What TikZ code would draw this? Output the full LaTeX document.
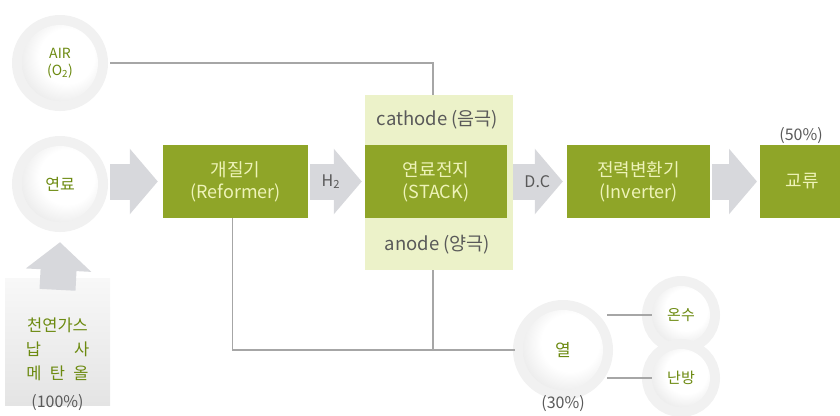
\documentclass[tikz,border=0pt]{standalone}
\usepackage{fontspec}
\setmainfont{Noto Sans CJK KR}
\usetikzlibrary{arrows.meta,calc}

\definecolor{boxgreen}   {HTML}{8FA528}
\definecolor{panelgreen} {HTML}{ECF2C9}
\definecolor{boxtext}    {HTML}{EEF3B8}
\definecolor{balltext}   {HTML}{6C8A10}
\definecolor{arrowgray}  {HTML}{D7D8DC}
\definecolor{pipegray}   {HTML}{A6A6A6}
\definecolor{labelgray}  {HTML}{595959}
\definecolor{halogray}   {HTML}{F1F1F1}
\definecolor{bubbleedge} {HTML}{C6C6C6}
\definecolor{feedtop}    {HTML}{F8F8F8}
\definecolor{feedbottom} {HTML}{E4E4E4}

\pgfdeclareradialshading{bubbleshade}{\pgfpoint{6bp}{6bp}}{%
  color(0bp)=(white); color(18bp)=(white);
  color(56bp)=(bubbleedge); color(72bp)=(bubbleedge)}

\tikzset{
  stagebox/.style={rectangle, fill=boxgreen, text=boxtext,
    minimum height=73pt, align=center,
    font=\fontsize{18}{22}\selectfont},
  bubble/.style={circle, minimum size=#1, inner sep=0pt,
    shading=bubbleshade, preaction={draw=halogray, line width=20pt},
    text=balltext, align=center,
    font=\fontsize{16}{18}\selectfont},
  bigarrow/.style={draw=arrowgray, line width=36pt,
    -{Triangle[width=64pt, length=28pt]}},
  arrowlabel/.style={text=labelgray, font=\fontsize{16}{18}\selectfont},
  pipe/.style={draw=pipegray, line width=1.1pt},
  pct/.style={text=labelgray, font=\fontsize{16}{18}\selectfont},
  elect/.style={text=labelgray, font=\fontsize{18.5}{20}\selectfont}
}

\begin{document}
\begin{tikzpicture}[x=1pt, y=-1pt]
\useasboundingbox (0,0) rectangle (840,415);

%% ── inputs ─────────────────────────────────────────────
\node[bubble=76pt, font=\fontsize{14}{17}\selectfont] (air) at (60,63) {AIR\\(O\textsubscript{2})};
\node[bubble=76pt] (fuel) at (60,184) {연료};
\node[rectangle, minimum width=105pt, minimum height=127pt,
  top color=feedtop, bottom color=feedbottom] (feed) at (57.5,341.5) {};
\node[text=balltext, align=center, font=\fontsize{16.5}{24}\selectfont]
  (feedtext) at (57.5,349) {천연가스\\납\hspace{2em}사\\메\hspace{.5em}탄\hspace{.5em}올};
\node[pct] (feedpct) at (57.5,403) {(100\%)};

%% ── main chain ─────────────────────────────────────────
\node[stagebox, minimum width=145pt] (reformer) at (235.5,181.5) {개질기\\(Reformer)};
\node[rectangle, fill=panelgreen, minimum width=148pt, minimum height=175pt]
  (stackbg) at (439,182.5) {};
\node[stagebox, minimum width=142pt, anchor=west] (stack) at (stackbg.west |- reformer) {연료전지\\(STACK)};
\node[elect] (cathode) at ($(stackbg.north)!0.5!(stack.north)$) {cathode (음극)};
\node[elect] (anode) at ($(stack.south)!0.5!(stackbg.south)$) {anode (양극)};
\node[stagebox, minimum width=143pt] (inverter) at (638.5,181.5) {전력변환기\\(Inverter)};
\node[stagebox, minimum width=84pt, anchor=west] (ac) at (760,181.5) {교류};
\node[pct] (acpct) at (801,136) {(50\%)};

%% ── heat ───────────────────────────────────────────────
\node[bubble=80pt, font=\fontsize{17}{19}\selectfont] (heat) at (563,350) {열};
\node[pct] (heatpct) at (563,404) {(30\%)};
\node[bubble=58pt, font=\fontsize{15}{17}\selectfont] (hotwater) at (681,315) {온수};
\node[bubble=58pt, font=\fontsize{15}{17}\selectfont] (heating) at (681,378) {난방};

%% ── pipes ──────────────────────────────────────────────
\draw[pipe] ([xshift=12pt]air.east) -| ([xshift=-6pt]stackbg.north);
\draw[pipe] ([xshift=-3pt]reformer.south) |- ([xshift=-8pt]heat.west);
\draw[pipe] ([xshift=-6pt]stackbg.south) -- ([xshift=-6pt]stackbg.south |- heat.west);
\draw[pipe] ([xshift=4pt]heat.east |- hotwater.west) -- (hotwater.west);
\draw[pipe] ([xshift=4pt]heat.east |- heating.west) -- (heating.west);

%% ── flow arrows ────────────────────────────────────────
\draw[bigarrow] ([yshift=-12pt]feed.north) -- ([yshift=-20pt]fuel.south);
\draw[bigarrow, shorten <=12pt, shorten >=5pt] (fuel.east |- reformer.west) -- (reformer.west);
\draw[bigarrow, shorten <=2pt, shorten >=3pt] (reformer.east)
  -- node[arrowlabel, pos=.4] {H\textsubscript{2}} (stackbg.west |- reformer.east);
\draw[bigarrow, shorten >=4pt] (stackbg.east |- inverter.west)
  -- node[arrowlabel, pos=.45] {D.C} (inverter.west);
\draw[bigarrow, shorten <=2pt, shorten >=3pt] (inverter.east) -- (ac.west);
\end{tikzpicture}
\end{document}
